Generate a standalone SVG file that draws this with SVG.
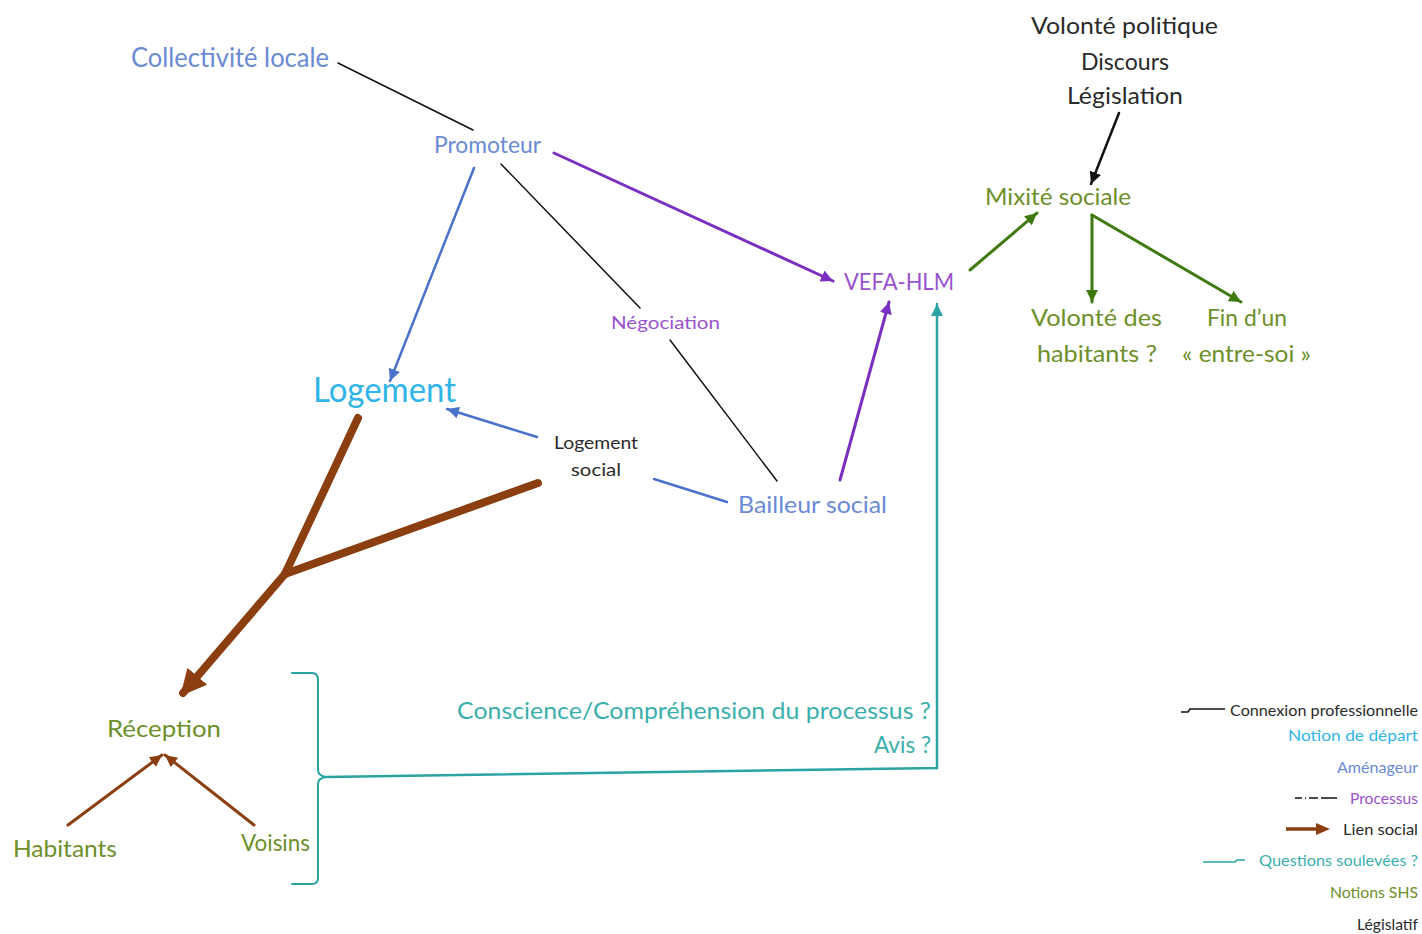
<svg xmlns="http://www.w3.org/2000/svg" width="1422" height="934" viewBox="0 0 1422 934">
<style>
text{font-family:"Lato","Open Sans","Liberation Sans",sans-serif;font-weight:400}
.am{fill:#6a8ad6}
.nd{fill:#2fb4ea}
.pr{fill:#9a52cf}
.sh{fill:#6d8f2a}
.dk{fill:#2a2a2a}
.qs{fill:#3aafac}
.c{fill:none}
</style>
<defs>
<marker id="aBlue" markerUnits="userSpaceOnUse" markerWidth="14" markerHeight="12" refX="12" refY="6" orient="auto"><path d="M0,0 L12,6 L0,12 z" fill="#4a72cc"/></marker>
<marker id="aPur" markerUnits="userSpaceOnUse" markerWidth="14" markerHeight="12" refX="12" refY="6" orient="auto"><path d="M0,0 L12,6 L0,12 z" fill="#7a2fc0"/></marker>
<marker id="aGrn" markerUnits="userSpaceOnUse" markerWidth="14" markerHeight="12" refX="12" refY="6" orient="auto"><path d="M0,0 L12,6 L0,12 z" fill="#3f7a10"/></marker>
<marker id="aBlk" markerUnits="userSpaceOnUse" markerWidth="14" markerHeight="12" refX="12" refY="6" orient="auto"><path d="M0,0 L12,6 L0,12 z" fill="#111"/></marker>
<marker id="aTeal" markerUnits="userSpaceOnUse" markerWidth="14" markerHeight="12" refX="12" refY="6" orient="auto"><path d="M0,0 L12,6 L0,12 z" fill="#2aa3a3"/></marker>
<marker id="aBrS" markerUnits="userSpaceOnUse" markerWidth="14" markerHeight="12" refX="12" refY="6" orient="auto"><path d="M0,0 L12,6 L0,12 z" fill="#8b3e0f"/></marker>
<marker id="aBrL" markerUnits="userSpaceOnUse" markerWidth="30" markerHeight="26" refX="22" refY="13" orient="auto"><path d="M0,0 L26,13 L0,26 z" fill="#8b3e0f"/></marker>
</defs>

<g id="connectors" fill="none" stroke-linecap="round">
  <line x1="338" y1="63" x2="473" y2="130" stroke="#111" stroke-width="1.5"/>
  <line x1="474" y1="168" x2="390" y2="381" stroke="#4a72cc" stroke-width="2.5" marker-end="url(#aBlue)"/>
  <line x1="501" y1="164" x2="640" y2="308" stroke="#111" stroke-width="1.5"/>
  <line x1="670" y1="340" x2="777" y2="481" stroke="#111" stroke-width="1.5"/>
  <line x1="554" y1="153" x2="833" y2="281" stroke="#7a2fc0" stroke-width="3" marker-end="url(#aPur)"/>
  <line x1="840" y1="480" x2="889" y2="302" stroke="#7a2fc0" stroke-width="3" marker-end="url(#aPur)"/>
  <line x1="537" y1="437" x2="447" y2="409" stroke="#4a72cc" stroke-width="2.5" marker-end="url(#aBlue)"/>
  <line x1="654" y1="479" x2="727" y2="502" stroke="#4a72cc" stroke-width="2.5"/>
  <line x1="358" y1="418" x2="285" y2="574" stroke="#8b3e0f" stroke-width="8"/>
  <line x1="538" y1="483" x2="285" y2="574" stroke="#8b3e0f" stroke-width="8"/>
  <line x1="285" y1="574" x2="183" y2="693" stroke="#8b3e0f" stroke-width="8" marker-end="url(#aBrL)"/>
  <line x1="68" y1="825" x2="162" y2="755" stroke="#8b3e0f" stroke-width="3" marker-end="url(#aBrS)"/>
  <line x1="254" y1="825" x2="165" y2="755" stroke="#8b3e0f" stroke-width="3" marker-end="url(#aBrS)"/>
  <path d="M292,673 H312 Q318,673 318,680 V770 Q318,776 326,777 Q318,778 318,784 V878 Q318,884 312,884 H292" stroke="#2aa3a3" stroke-width="2"/>
  <path d="M326,777 L937,768 V304" stroke="#2aa3a3" stroke-width="2.5" marker-end="url(#aTeal)"/>
  <line x1="970" y1="270" x2="1037" y2="213" stroke="#3f7a10" stroke-width="3" marker-end="url(#aGrn)"/>
  <line x1="1119" y1="113" x2="1091" y2="184" stroke="#111" stroke-width="2.5" marker-end="url(#aBlk)"/>
  <line x1="1092" y1="215" x2="1092" y2="302" stroke="#3f7a10" stroke-width="3" marker-end="url(#aGrn)"/>
  <line x1="1092" y1="215" x2="1241" y2="302" stroke="#3f7a10" stroke-width="3" marker-end="url(#aGrn)"/>
</g>

<g id="n-collectivite"><text class="am" x="131" y="67" font-size="26" textLength="198" lengthAdjust="spacingAndGlyphs">Collectivité locale</text></g>
<g id="n-promoteur"><text class="am" x="434" y="153" font-size="24" textLength="107" lengthAdjust="spacingAndGlyphs">Promoteur</text></g>
<g id="n-vefa"><text class="pr" x="844" y="290" font-size="24" textLength="110" lengthAdjust="spacingAndGlyphs">VEFA-HLM</text></g>
<g id="n-negociation"><text class="pr" x="611" y="329" font-size="18" textLength="109" lengthAdjust="spacingAndGlyphs">Négociation</text></g>
<g id="n-volonte-politique">
  <text class="dk" x="1031" y="34" font-size="24" textLength="187" lengthAdjust="spacingAndGlyphs">Volonté politique</text>
  <text class="dk" x="1081" y="70" font-size="24" textLength="88" lengthAdjust="spacingAndGlyphs">Discours</text>
  <text class="dk" x="1067" y="104" font-size="24" textLength="116" lengthAdjust="spacingAndGlyphs">Législation</text>
</g>
<g id="n-mixite"><text class="sh" x="985" y="205" font-size="24" textLength="146" lengthAdjust="spacingAndGlyphs">Mixité sociale</text></g>
<g id="n-volonte-habitants">
  <text class="sh" x="1031" y="326" font-size="24" textLength="131" lengthAdjust="spacingAndGlyphs">Volonté des</text>
  <text class="sh" x="1037" y="362" font-size="24" textLength="120" lengthAdjust="spacingAndGlyphs">habitants ?</text>
</g>
<g id="n-entre-soi">
  <text class="sh" x="1207" y="326" font-size="24" textLength="80" lengthAdjust="spacingAndGlyphs">Fin d’un</text>
  <text class="sh" x="1182" y="362" font-size="24" textLength="129" lengthAdjust="spacingAndGlyphs">« entre-soi »</text>
</g>
<g id="n-logement"><text class="nd" x="313" y="402" font-size="34" textLength="143" lengthAdjust="spacingAndGlyphs">Logement</text></g>
<g id="n-logement-social">
  <text class="dk" x="554" y="449" font-size="18" textLength="84" lengthAdjust="spacingAndGlyphs">Logement</text>
  <text class="dk" x="571" y="476" font-size="18" textLength="50" lengthAdjust="spacingAndGlyphs">social</text>
</g>
<g id="n-bailleur"><text class="am" x="738" y="513" font-size="24" textLength="149" lengthAdjust="spacingAndGlyphs">Bailleur social</text></g>
<g id="n-reception"><text class="sh" x="107" y="737" font-size="24" textLength="114" lengthAdjust="spacingAndGlyphs">Réception</text></g>
<g id="n-habitants"><text class="sh" x="13" y="857" font-size="24" textLength="104" lengthAdjust="spacingAndGlyphs">Habitants</text></g>
<g id="n-voisins"><text class="sh" x="241" y="851" font-size="24" textLength="69" lengthAdjust="spacingAndGlyphs">Voisins</text></g>
<g id="n-questions">
  <text class="qs" x="457" y="719" font-size="24" textLength="474" lengthAdjust="spacingAndGlyphs">Conscience/Compréhension du processus ?</text>
  <text class="qs" x="874" y="753" font-size="24" textLength="57" lengthAdjust="spacingAndGlyphs">Avis ?</text>
</g>

<g id="legend">
  <path d="M1181,712 H1188 L1190,709 H1225" fill="none" stroke="#111" stroke-width="1.5"/>
  <text class="dk" x="1230" y="716" font-size="16" textLength="188" lengthAdjust="spacingAndGlyphs">Connexion professionnelle</text>
  <text class="nd" x="1288" y="741" font-size="16" textLength="130" lengthAdjust="spacingAndGlyphs">Notion de départ</text>
  <text class="am" x="1337" y="773" font-size="16" textLength="81" lengthAdjust="spacingAndGlyphs">Aménageur</text>
  <path d="M1295,798 H1302 M1305,798 H1306 M1309,798 H1318 M1321,798 H1337" fill="none" stroke="#111" stroke-width="1.5"/>
  <text class="pr" x="1350" y="804" font-size="16" textLength="68" lengthAdjust="spacingAndGlyphs">Processus</text>
  <line x1="1286" y1="829" x2="1318" y2="829" stroke="#8b3e0f" stroke-width="3.5"/>
  <path d="M1316,823 L1330,829 L1316,835 z" fill="#8b3e0f"/>
  <text class="dk" x="1343" y="835" font-size="16" textLength="75" lengthAdjust="spacingAndGlyphs">Lien social</text>
  <path d="M1203,862 H1235 L1237,860 H1245" fill="none" stroke="#2aa3a3" stroke-width="1.5"/>
  <text class="qs" x="1259" y="866" font-size="16" textLength="159" lengthAdjust="spacingAndGlyphs">Questions soulevées ?</text>
  <text class="sh" x="1330" y="898" font-size="16" textLength="88" lengthAdjust="spacingAndGlyphs">Notions SHS</text>
  <text class="dk" x="1357" y="930" font-size="16" textLength="61" lengthAdjust="spacingAndGlyphs">Législatif</text>
</g>
</svg>
